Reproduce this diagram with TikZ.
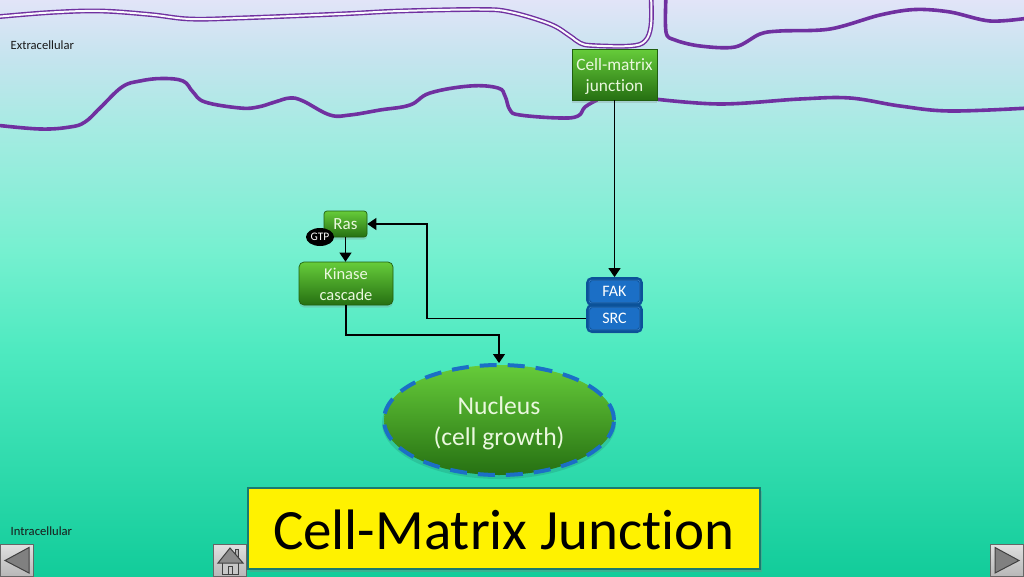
\documentclass[tikz,border=0pt]{standalone}
\usepackage{fontspec}
\setmainfont[Ligatures=NoCommon]{Carlito}
\usetikzlibrary{arrows.meta,shapes.geometric,shadows}
\definecolor{bg0}{HTML}{E2E4F8}
\definecolor{bg1}{HTML}{C4E4EE}
\definecolor{bg2}{HTML}{A5EBE2}
\definecolor{bg3}{HTML}{76F0D0}
\definecolor{bg4}{HTML}{4EEAC0}
\definecolor{bg5}{HTML}{12CC9A}
\definecolor{memb}{HTML}{7030A0}
\definecolor{greentop}{HTML}{66CC3A}
\definecolor{greenbot}{HTML}{267012}
\definecolor{bluefill}{HTML}{1B6FC6}
\definecolor{blueedge}{HTML}{0B5299}
\definecolor{bluelight}{HTML}{3F86D2}
\definecolor{labelc}{HTML}{EAF8DE}
\definecolor{titleedge}{HTML}{1A7A70}
\pgfdeclareverticalshading{slidebg}{100bp}{color(0bp)=(bg5); color(25bp)=(bg5); color(44.6bp)=(bg4); color(53.3bp)=(bg3); color(63.7bp)=(bg2); color(69.8bp)=(bg1); color(75bp)=(bg0); color(100bp)=(bg0)}
\tikzset{
  membrane/.style={draw=memb,line width=3.6pt,line cap=round,line join=round},
  greenbox/.style={rectangle,rounded corners=#1,top color=greentop,bottom color=greenbot,draw=greenbot!85!black,line width=.7pt,text=labelc,align=center,inner sep=0pt,drop shadow={shadow xshift=0pt,shadow yshift=-2.5pt,opacity=.25}},
  greenbox/.default=3pt,
  bluebox/.style={rectangle,rounded corners=4pt,fill=bluefill,draw=blueedge,line width=3.8pt,text=white,inner sep=0pt,minimum width=53pt,minimum height=25pt,font=\fontsize{16}{18}\selectfont,drop shadow={shadow xshift=0pt,shadow yshift=-2.5pt,opacity=.25}},
  bluerim/.style={draw=bluelight,line width=.6pt,rounded corners=1.5pt},
  conn/.style={draw=black,line width=1.2pt,-{Triangle[length=9pt,width=12pt]}},
  navbtn/.style={rectangle,top color=white!88!black,bottom color=white!72!black,draw=black!60,line width=1pt,inner sep=0pt,minimum width=33pt,minimum height=32pt},
  navicon/.style={fill=black!50,draw=black!75,line width=1pt,line join=miter},
  corner/.style={text=black!90,inner sep=0pt,font=\fontsize{12.6}{14}\selectfont,anchor=west}
}
\begin{document}
\begin{tikzpicture}[x=1pt,y=-1pt]
\useasboundingbox (0,0) rectangle (1024,576);
\path[shading=slidebg] (0,0) rectangle (1024,576);
% membranes
\draw[draw=memb,line width=1.4pt,double=white!75!bg0,double distance=2pt,line join=round] plot[smooth,tension=.6] coordinates {(-5,17) (50,12.5) (100,11) (150,14.5) (190,19) (240,18) (340,14) (400,11) (480,9.5) (510,12) (550,24) (570,36) (580,43) (592,45.5) (630,46) (645,41) (651,25) (651,-5)};
\draw[membrane] plot[smooth,tension=.65] coordinates {(-5,125) (40,129) (70,127) (85,122) (100,108) (122,87) (140,81) (162,78.5) (183,81) (193,92) (205,102) (240,108) (258,107) (275,102) (290,98) (303,101) (330,115) (350,115) (380,110) (410,105) (430,93) (470,86) (498,88) (505,96) (510,110) (520,115) (560,118) (578,116) (585,107) (597,100)};
\draw[membrane] plot[smooth,tension=.6] coordinates {(650,98.5) (720,104) (800,99) (850,98) (900,106) (950,111) (1029,108)};
\draw[membrane] plot[smooth,tension=.55] coordinates {(666,-5) (666,32) (675,40) (700,46) (735,47) (760,34) (780,31) (830,29) (880,15) (915,9.5) (950,12) (990,21) (1029,18)};
% text labels
\node[corner] (extra) at (10.5,45) {Extracellular};
\node[corner] (intra) at (10.5,531.5) {Intracellular};
% nodes
\node[greenbox=0pt,minimum width=85pt,minimum height=51pt,font=\fontsize{17.3}{21}\selectfont] (cm) at (614.5,74.5) {\rule{0pt}{16pt}Cell-matrix\\junction};
\node[greenbox,minimum width=43pt,minimum height=26pt,font=\fontsize{17}{18}\selectfont] (ras) at (345.5,224) {Ras};
\node[greenbox=5pt,minimum width=94pt,minimum height=43pt,font=\fontsize{16.5}{21}\selectfont] (kinase) at (346,283.5) {\rule{0pt}{13.5pt}Kinase\\cascade};
\node[ellipse,fill=black,text=white,inner sep=0pt,minimum width=28pt,minimum height=18pt,font=\fontsize{11.5}{12}\selectfont] (gtp) at (320,237) {GTP};
\node[bluebox] (fak) at (614.5,291.5) {FAK};
\node[bluebox] (src) at (614.5,318.5) {SRC};
\draw[bluerim] ([shift={(3,3)}]fak.north west) rectangle ([shift={(-3,-3)}]fak.south east);
\draw[bluerim] ([shift={(3,3)}]src.north west) rectangle ([shift={(-3,-3)}]src.south east);
\fill[black,opacity=.1] (499,423) ellipse (117 and 56);
\node[ellipse,top color=greentop,bottom color=greenbot,draw=bluefill,line width=4pt,dash pattern=on 17pt off 11pt,text=labelc,align=center,inner sep=0pt,minimum width=230pt,minimum height=110pt,font=\fontsize{25.6}{31}\selectfont] (nucleus) at (499,420) {\rule{0pt}{24pt}Nucleus\\(cell growth)};
\node[rectangle,fill=yellow,draw=titleedge,line width=1.2pt,inner sep=0pt,minimum width=512pt,minimum height=81pt,font=\fontsize{57}{60}\selectfont,text=black,drop shadow={shadow xshift=1.5pt,shadow yshift=-3pt,opacity=.35}] (title) at (504,528.5) {\rule{0pt}{42pt}Cell-Matrix Junction};
% connectors
\coordinate (knee) at (427,270);
\coordinate (jog) at (420,335);
\draw[conn] (cm.south) -- (fak.north);
\draw[conn] (src.west) -| (knee) |- (ras.east);
\draw[conn] (ras.south) -- (ras.south |- kinase.north);
\draw[conn] (kinase.south) |- (jog) -| (nucleus.north);
% navigation buttons
\node[navbtn] (prev) at (17,560) {};
\node[navbtn] (home) at (230,560) {};
\node[navbtn] (next) at (1007,560) {};
\draw[navicon] (5,560.5) -- (29,547.5) -- (29,573) -- cycle;
\draw[navicon] (1019,560.5) -- (995,547.5) -- (995,573) -- cycle;
\draw[fill=black!30,draw=black!75,line width=.9pt] (235,549) rectangle (238,558);
\draw[fill=black!22,draw=black!75,line width=1pt] (222,562) rectangle (238,574);
\draw[navicon,fill=black!45] (218,563) -- (230,548) -- (243,563) -- cycle;
\draw[draw=black!75,line width=1pt] (228,574) -- (228,566) -- (232,566) -- (232,574);
\end{tikzpicture}
\end{document}
